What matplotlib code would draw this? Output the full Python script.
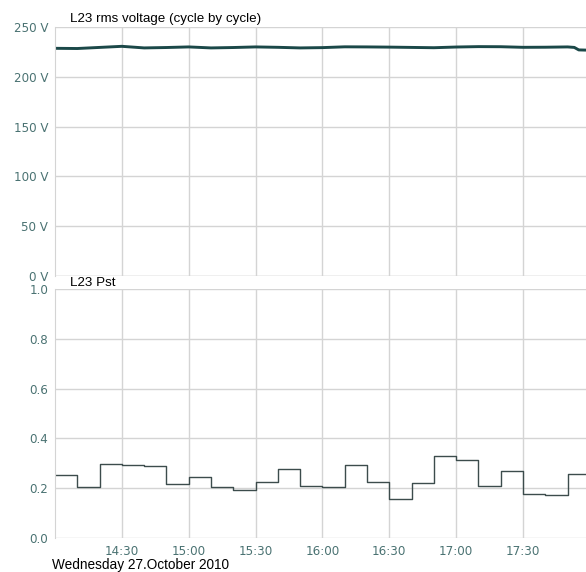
import datetime as dt
import matplotlib
matplotlib.use("Agg")
import matplotlib.pyplot as plt
import matplotlib.dates as mdates

# voltage, roughly every 10 minutes
volt_times = ["14:00", "14:10", "14:20", "14:30", "14:40", "14:50", "15:00", "15:10",
              "15:20", "15:30", "15:40", "15:50", "16:00", "16:10", "16:20", "16:30",
              "16:40", "16:50", "17:00", "17:10", "17:20", "17:30", "17:40", "17:50",
              "17:53", "17:55", "17:58"]
volt_vals = [228.6, 228.4, 229.5, 230.6, 229.0, 229.4, 230.0, 229.0,
             229.4, 230.0, 229.6, 229.0, 229.3, 230.1, 230.0, 229.8,
             229.5, 229.2, 229.9, 230.3, 230.2, 229.6, 229.7, 230.0,
             229.5, 227.0, 226.8]

# Pst, one value per 10 minute interval starting 14:00
pst_start = "14:00"
pst_vals = [0.253, 0.206, 0.296, 0.293, 0.290, 0.217, 0.246, 0.204, 0.193, 0.224,
            0.276, 0.210, 0.206, 0.292, 0.226, 0.155, 0.222, 0.329, 0.312, 0.209,
            0.270, 0.177, 0.171, 0.258]

x_ticks = ["14:30", "15:00", "15:30", "16:00", "16:30", "17:00", "17:30"]
v_ticks = [0, 50, 100, 150, 200, 250]
p_ticks = [0.0, 0.2, 0.4, 0.6, 0.8, 1.0]


def to_time(s):
    h, m = s.split(":")
    return dt.datetime(2010, 10, 27, int(h), int(m))


t_start = to_time(pst_start)
t_end = dt.datetime(2010, 10, 27, 17, 58, 15)

tick_col = "#4a7272"
grid_col = "#d4d4d4"

fig = plt.figure(figsize=(5.86, 5.72), dpi=100)
ax1 = fig.add_axes([55 / 586, 1 - 276 / 572, 1 - 55 / 586, 249 / 572])
ax2 = fig.add_axes([55 / 586, 1 - 538 / 572, 1 - 55 / 586, 249 / 572])

# top panel: rms voltage
vt = [to_time(s) for s in volt_times]
vt[-1] = t_end
ax1.plot(vt, volt_vals, color="#1b4848", lw=2.1, solid_capstyle="butt")
ax1.set_ylim(0, 250)
ax1.set_yticks(v_ticks)
ax1.set_yticklabels([f"{v} V" for v in v_ticks])

# bottom panel: Pst as steps
pt = [t_start + dt.timedelta(minutes=10 * i) for i in range(len(pst_vals))]
pt.append(t_end)
ax2.step(pt, pst_vals + [pst_vals[-1]], where="post", color="#3c4c4c", lw=1.0)
ax2.set_ylim(0, 1.0)
ax2.set_yticks(p_ticks)
ax2.set_yticklabels([f"{v:.1f}" for v in p_ticks])

for ax in (ax1, ax2):
    ax.set_xlim(t_start, t_end)
    ax.set_xticks([to_time(s) for s in x_ticks])
    ax.xaxis.set_major_formatter(mdates.DateFormatter("%H:%M"))
    ax.grid(True, color=grid_col, lw=1.0)
    ax.set_axisbelow(True)
    for side in ("top", "right", "bottom"):
        ax.spines[side].set_visible(False)
    ax.spines["left"].set_color(grid_col)
    ax.tick_params(length=0, colors=tick_col, labelsize=8.6, pad=5)
    ax.set_facecolor("none")

ax1.tick_params(labelbottom=False)
ax1.axhline(0, color=grid_col, lw=1.0, zorder=0)

fig.text(70 / 586, 1 - 19 / 572, "L23 rms voltage (cycle by cycle)",
         family="Liberation Sans", fontsize=9.6, va="center", ha="left")
fig.text(70 / 586, 1 - 283 / 572, "L23 Pst", family="Liberation Sans",
         fontsize=9.6, va="center", ha="left")
fig.text(52 / 586, 1 - 565 / 572, "Wednesday 27.October 2010",
         family="Liberation Sans", fontsize=9.8, va="center", ha="left")

fig.savefig("out.png", dpi=100)
